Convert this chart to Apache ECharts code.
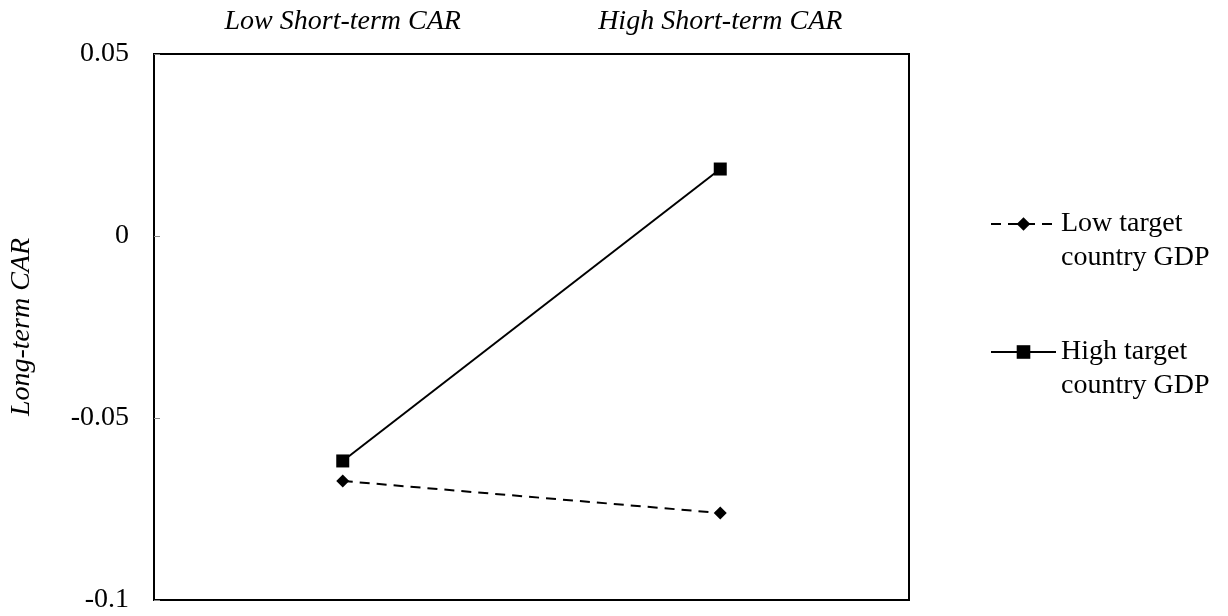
<!DOCTYPE html>
<html><head><meta charset="utf-8">
<script src="https://cdn.jsdelivr.net/npm/echarts@6/dist/echarts.min.js"></script>
<style>html,body{margin:0;padding:0;background:#fff}#c{width:1228px;height:616px}</style>
</head><body><div id="c"></div>
<script>
var categories = ['Low Short-term CAR', 'High Short-term CAR'];
var lowGDP = [-0.0673, -0.0761];
var highGDP = [-0.0618, 0.0184];
var seriesNames = ['Low target country GDP', 'High target country GDP'];
var yTicks = {min: -0.1, max: 0.05, interval: 0.05};
var font = 'Liberation Serif, Times New Roman, serif';
var chart = echarts.init(document.getElementById('c'));
function legendFor(name, top) {
  return {
    data: [name], orient: 'vertical', left: 985, top: top,
    itemWidth: 65, itemHeight: 17, selectedMode: false, itemGap: 0,
    formatter: function (n) { return ' \n' + n.replace(' country', '\ncountry'); },
    textStyle: {fontFamily: font, fontSize: 28, color: '#000', lineHeight: 34}
  };
}
chart.setOption({
  animation: false,
  grid: {left: 154, right: 319, top: 54, bottom: 16, show: true, borderColor: '#000', borderWidth: 2},
  legend: [legendFor(seriesNames[0], 168), legendFor(seriesNames[1], 296)],
  xAxis: {
    type: 'category', data: categories, position: 'top', boundaryGap: true,
    axisLine: {show: true, onZero: false, lineStyle: {color: '#000', width: 2}},
    axisTick: {show: false},
    axisLabel: {margin: 18, fontFamily: font, fontStyle: 'italic', fontSize: 28, color: '#000'}
  },
  yAxis: {
    type: 'value', min: yTicks.min, max: yTicks.max, interval: yTicks.interval,
    name: 'Long-term CAR', nameLocation: 'middle', nameGap: 118, nameRotate: 90,
    nameTextStyle: {fontFamily: font, fontStyle: 'italic', fontSize: 28, color: '#000'},
    axisLine: {show: true, lineStyle: {color: '#000', width: 2}},
    axisTick: {show: true, inside: true, length: 6, lineStyle: {color: '#888', width: 1}},
    splitLine: {show: false},
    axisLabel: {margin: 25, fontFamily: font, fontSize: 28, color: '#000',
      formatter: function (v) { return String(Math.round(v * 100) / 100); }}
  },
  series: [
    {name: seriesNames[0], type: 'line', data: lowGDP, symbol: 'diamond', symbolSize: 13,
      lineStyle: {color: '#000', width: 2, type: [10, 7]}, itemStyle: {color: '#000'}},
    {name: seriesNames[1], type: 'line', data: highGDP, symbol: 'rect', symbolSize: 13,
      lineStyle: {color: '#000', width: 2}, itemStyle: {color: '#000'}}
  ]
});
</script></body></html>
